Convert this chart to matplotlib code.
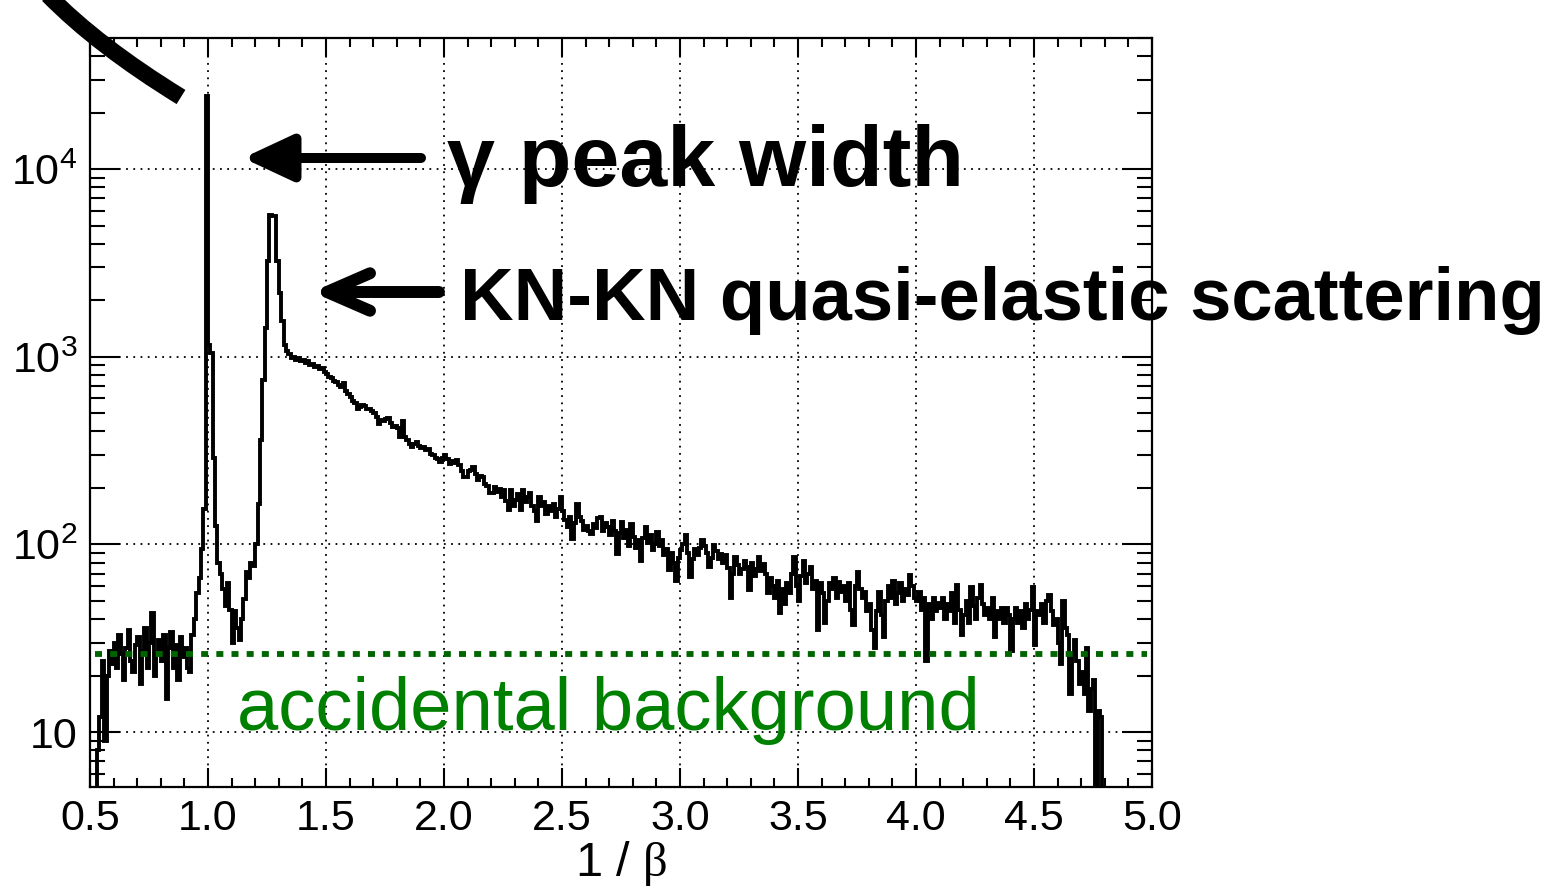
import numpy as np
import matplotlib
matplotlib.use("Agg")
import matplotlib.pyplot as plt
from matplotlib.ticker import MultipleLocator, LogLocator, FuncFormatter, NullFormatter
from matplotlib.path import Path
from matplotlib.patches import PathPatch

plt.rcParams['font.family'] = ['Liberation Sans', 'DejaVu Sans']
plt.rcParams['mathtext.fontset'] = 'custom'
plt.rcParams['mathtext.rm'] = 'Liberation Sans'
plt.rcParams['mathtext.it'] = 'Liberation Serif'

# 1/beta spectrum, bins of 0.01 from 0.50 to 5.00 (one row = 0.1)
bin_lo, bin_hi, bin_w = 0.50, 5.00, 0.01
counts = [
    0, 0, 0, 8, 12, 24, 9, 20, 27, 23,
    30, 22, 33, 26, 19, 28, 35, 24, 21, 29,
    32, 18, 27, 36, 22, 30, 43, 20, 26, 31,
    24, 33, 15, 28, 34, 22, 29, 19, 32, 25,
    28, 22, 21, 33, 40, 55, 66, 95, 155, 24400,
    1150, 1050, 290, 125, 80, 70, 58, 47, 62, 45,
    30, 44, 36, 31, 40, 51, 71, 66, 80, 77,
    100, 165, 360, 750, 1420, 3250, 5700, 5650, 5600, 3250,
    2200, 1550, 1150, 1080, 1040, 990, 1000, 960, 990, 950,
    960, 930, 950, 900, 920, 880, 895, 860, 870, 830,
    810, 780, 770, 745, 730, 705, 690, 725, 660, 635,
    610, 585, 570, 530, 540, 555, 548, 530, 525, 515,
    500, 475, 440, 460, 455, 465, 470, 445, 425, 430,
    420, 375, 455, 372, 360, 345, 330, 345, 352, 335,
    325, 330, 318, 322, 305, 298, 290, 285, 275, 290,
    300, 285, 268, 280, 272, 282, 265, 245, 230, 228,
    245, 250, 258, 238, 220, 232, 228, 210, 205, 188,
    187, 202, 190, 198, 180, 194, 170, 152, 195, 160,
    172, 185, 152, 195, 168, 178, 187, 160, 150, 134,
    179, 160, 168, 145, 160, 150, 165, 140, 155, 179,
    150, 135, 124, 140, 107, 130, 165, 140, 134, 120,
    125, 118, 114, 128, 122, 138, 140, 118, 130, 124,
    112, 134, 118, 89, 115, 131, 108, 120, 98, 129,
    110, 96, 105, 82, 108, 124, 102, 112, 93, 100,
    116, 98, 106, 88, 95, 73, 90, 80, 64, 85,
    93, 100, 112, 90, 67, 84, 95, 88, 96, 105,
    98, 90, 76, 85, 99, 92, 84, 89, 80, 88,
    75, 52, 70, 86, 78, 70, 74, 82, 76, 57,
    80, 68, 74, 86, 72, 79, 70, 55, 66, 60,
    52, 64, 43, 58, 48, 62, 55, 70, 86, 60,
    50, 68, 82, 62, 70, 76, 58, 64, 35, 62,
    55, 38, 50, 62, 58, 66, 52, 63, 56, 60,
    50, 62, 45, 37, 60, 71, 58, 52, 56, 44,
    48, 35, 28, 44, 56, 42, 32, 50, 60, 52,
    64, 48, 55, 62, 50, 58, 54, 69, 60, 52,
    50, 56, 45, 52, 24, 48, 40, 52, 44, 49,
    46, 52, 40, 48, 44, 55, 38, 61, 45, 33,
    42, 50, 38, 59, 47, 40, 52, 61, 48, 42,
    46, 40, 52, 32, 44, 40, 46, 38, 46, 42,
    27, 40, 46, 38, 44, 36, 48, 40, 45, 59,
    29, 44, 42, 48, 38, 50, 54, 44, 37, 40,
    30, 23, 50, 36, 33, 16, 26, 31, 24, 18,
    21, 16, 28, 13, 17, 19, 5, 13, 12, 0,
    0, 0, 0, 0, 0, 0, 0, 0, 0, 0,
    0, 0, 0, 0, 0, 0, 0, 0, 0, 0,
]
bkg_level = 26
bkg_range = (0.52, 4.98)

edges = np.round(np.arange(bin_lo, bin_hi + bin_w / 2, bin_w), 2)

W, H = 1564, 890
fig = plt.figure(figsize=(W / 100, H / 100), dpi=100)
ax = fig.add_axes([90 / W, 1 - 787 / H, (1152 - 90) / W, (787 - 38) / H])

ax.set_yscale('log')
ax.set_xlim(bin_lo, bin_hi)
ax.set_ylim(5.1, 5.0e4)

ax.stairs(counts, edges, baseline=None, color='black', linewidth=2.8, zorder=2)
ax.hlines(bkg_level, *bkg_range, colors='#006400', linewidth=4.2,
          linestyles=(0, (1.2, 1.4)), zorder=3)

# ROOT-like frame and ticks
for sp in ax.spines.values():
    sp.set_linewidth(1.6)
ax.xaxis.set_major_locator(MultipleLocator(0.5))
ax.xaxis.set_minor_locator(MultipleLocator(0.1))
ax.xaxis.set_major_formatter(FuncFormatter(lambda v, p: f"{v:.1f}"))
ax.yaxis.set_major_locator(LogLocator(base=10, numticks=10))
ax.yaxis.set_minor_locator(LogLocator(base=10, subs=np.arange(2, 10), numticks=20))
ax.yaxis.set_minor_formatter(NullFormatter())


def ylab(v, p):
    e = int(round(np.log10(v)))
    if e == 1:
        return "10"
    return r"$\mathregular{10^{%d}}$" % e


ax.yaxis.set_major_formatter(FuncFormatter(ylab))
ax.tick_params(which='both', direction='in', top=True, right=True, width=1.5)
ax.tick_params(axis='x', which='major', length=14, pad=9, labelsize=31)
ax.tick_params(axis='x', which='minor', length=6.5)
ax.tick_params(axis='y', which='major', length=21.5, pad=9, labelsize=31)
ax.tick_params(axis='y', which='minor', length=11)
ax.grid(True, which='major', color='black', linestyle=(0, (1, 3)), linewidth=1.3, zorder=0)
ax.set_axisbelow(True)

ax.set_xlabel(r"1 / $\beta$", fontsize=35, labelpad=0)

# annotations
fig.text(447 / W, 1 - 186 / H, "γ peak width", fontsize=62, fontweight='bold',
         va='baseline', ha='left')
fig.text(460 / W, 1 - 320 / H, "KN-KN quasi-elastic scattering", fontsize=53.5,
         fontweight='bold', va='baseline', ha='left')
fig.text(237 / W, 1 - 730 / H, "accidental background", fontsize=53.5,
         color='#008000', va='baseline', ha='left')

ax.annotate('', xy=(243 / W, 1 - 158 / H), xytext=(421 / W, 1 - 158 / H),
            xycoords='figure fraction', textcoords='figure fraction',
            arrowprops=dict(arrowstyle='-|>,head_length=30,head_width=14',
                            mutation_scale=1, lw=7.2, color='black',
                            shrinkA=0, shrinkB=0))
ax.annotate('', xy=(312 / W, 1 - 292 / H), xytext=(439 / W, 1 - 292 / H),
            xycoords='figure fraction', textcoords='figure fraction',
            arrowprops=dict(arrowstyle='->,head_length=31,head_width=13.5',
                            mutation_scale=1, lw=8.6, color='black',
                            capstyle='round', joinstyle='round',
                            shrinkA=0, shrinkB=0))

# thick curved stroke in the upper left corner
p0, c, p2 = (48, -5), (98, 46), (181, 97)
verts = [(x / W, 1 - y / H) for x, y in (p0, c, p2)]
stroke = PathPatch(Path(verts, [Path.MOVETO, Path.CURVE3, Path.CURVE3]),
                   transform=fig.transFigure, fill=False, edgecolor='black',
                   linewidth=12, capstyle='butt', clip_on=False)
fig.add_artist(stroke)

fig.savefig("out.png", dpi=100)
